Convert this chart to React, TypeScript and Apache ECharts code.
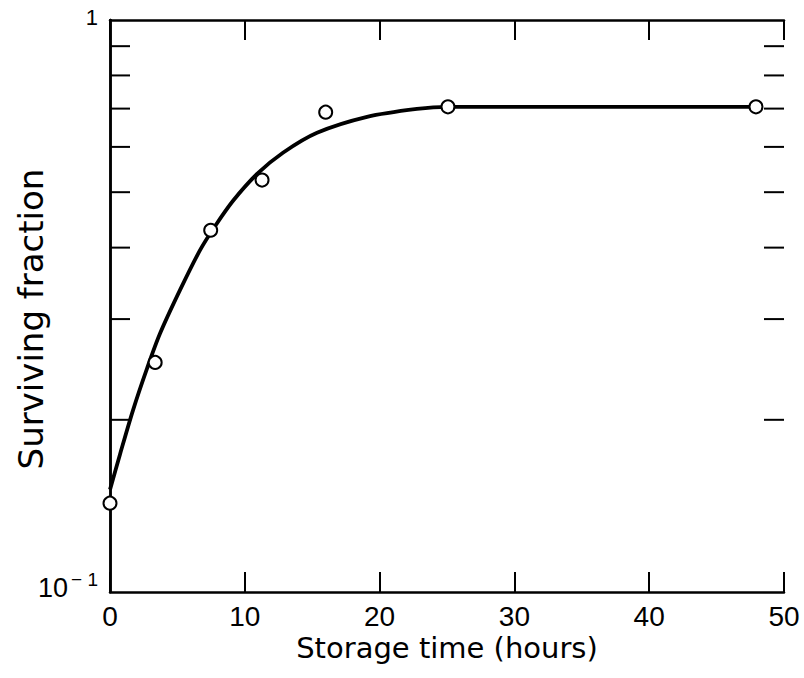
import React, { useEffect, useRef } from "react";
import * as echarts from "echarts";

// Measured points (open circles)
const storageHours = [0, 3.35, 7.47, 11.28, 16.0, 25.07, 47.92];
const survivingFraction = [0.143, 0.252, 0.429, 0.525, 0.69, 0.705, 0.705];

// Fitted curve
const curveHours = [0, 0.74, 1.71, 2.75, 3.71, 5.19, 6.68, 7.79, 9.13, 10.91, 12.83, 15.36, 19.07, 22.77, 25.07, 30, 47.92];
const curveFraction = [0.151, 0.174, 0.208, 0.246, 0.283, 0.337, 0.396, 0.436, 0.483, 0.538, 0.586, 0.635, 0.677, 0.699, 0.705, 0.705, 0.705];

// Minor (log) tick values on the y axis
const yMinorTicks = [0.2, 0.3, 0.4, 0.5, 0.6, 0.7, 0.8, 0.9];

const xName = "Storage time (hours)";
const yName = "Surviving fraction";

export default function App() {
  const ref = useRef<HTMLDivElement>(null);
  useEffect(() => {
    document.body.style.margin = "0";
    const chart = echarts.init(ref.current!, undefined, { renderer: "svg" });
    const axisLine = { show: true, lineStyle: { color: "#000", width: 2.5 } };
    const font = "DejaVu Sans";
    const tickFont = "Liberation Sans";
    chart.setOption({
      animation: false,
      backgroundColor: "#fff",
      grid: { left: 110, right: 20, top: 20, bottom: 86, containLabel: false, outerBoundsMode: "none" },
      xAxis: [
        {
          type: "value",
          min: 0,
          max: 50,
          interval: 10,
          position: "bottom",
          axisLine,
          axisTick: { show: true, inside: true, length: 20, lineStyle: { color: "#000", width: 2 } },
          axisLabel: { show: true, color: "#000", fontFamily: tickFont, fontSize: 28, margin: 10 },
          splitLine: { show: false },
          name: xName,
          nameLocation: "middle",
          nameGap: 41,
          nameMoveOverlap: false,
          nameTextStyle: { color: "#000", fontFamily: font, fontSize: 29 },
        },
        {
          type: "value",
          min: 0,
          max: 50,
          interval: 10,
          position: "top",
          axisLine,
          axisTick: { show: true, inside: true, length: 20, lineStyle: { color: "#000", width: 2 } },
          axisLabel: { show: false },
          splitLine: { show: false },
        },
      ],
      yAxis: [
        {
          type: "log",
          logBase: 10,
          min: 0.1,
          max: 1,
          position: "left",
          axisLine,
          axisTick: { show: false },
          axisLabel: {
            show: true,
            color: "#000",
            fontFamily: tickFont,
            margin: 12,
            formatter: (v: number) => (Math.abs(v - 1) < 1e-6 ? "{one|1}" : "{b|10}{sup|− 1}"),
            rich: {
              one: { fontSize: 22, fontFamily: tickFont, color: "#000", padding: [0, 0, 6, 0] },
              b: { fontSize: 27, fontFamily: tickFont, color: "#000", padding: [0, 0, 8, 0] },
              sup: { fontSize: 19, fontFamily: tickFont, color: "#000", padding: [0, 0, 26, 3] },
            },
          },
          splitLine: { show: false },
          name: yName,
          nameLocation: "middle",
          nameRotate: 90,
          nameGap: 62,
          nameMoveOverlap: false,
          nameTextStyle: { color: "#000", fontFamily: font, fontSize: 34, padding: [0, 26, 0, 0] },
        },
        {
          type: "log",
          logBase: 10,
          min: 0.1,
          max: 1,
          position: "right",
          axisLine,
          axisTick: { show: false },
          axisLabel: { show: false },
          splitLine: { show: false },
        },
      ],
      series: [
        {
          type: "custom",
          coordinateSystem: "cartesian2d",
          silent: true,
          z: 1,
          data: yMinorTicks.map((v) => [0, v]),
          renderItem: (params: any, api: any) => {
            const v = api.value(1);
            const l = api.coord([0, v]);
            const r = api.coord([50, v]);
            const style = { stroke: "#000", lineWidth: 2 };
            return {
              type: "group",
              children: [
                { type: "line", shape: { x1: l[0], y1: l[1], x2: l[0] + 20, y2: l[1] }, style },
                { type: "line", shape: { x1: r[0] - 20, y1: r[1], x2: r[0], y2: r[1] }, style },
              ],
            };
          },
        },
        {
          type: "line",
          data: curveHours.map((h, i) => [h, curveFraction[i]]),
          smooth: 0.3,
          showSymbol: false,
          symbol: "none",
          lineStyle: { color: "#000", width: 3.8 },
          z: 2,
          silent: true,
        },
        {
          type: "scatter",
          data: storageHours.map((h, i) => [h, survivingFraction[i]]),
          symbol: "circle",
          symbolSize: 13,
          itemStyle: { color: "#fff", borderColor: "#000", borderWidth: 2, opacity: 1 },
          z: 3,
          silent: true,
        },
      ],
    });
    return () => chart.dispose();
  }, []);
  return <div ref={ref} style={{ width: 804, height: 678 }} />;
}
